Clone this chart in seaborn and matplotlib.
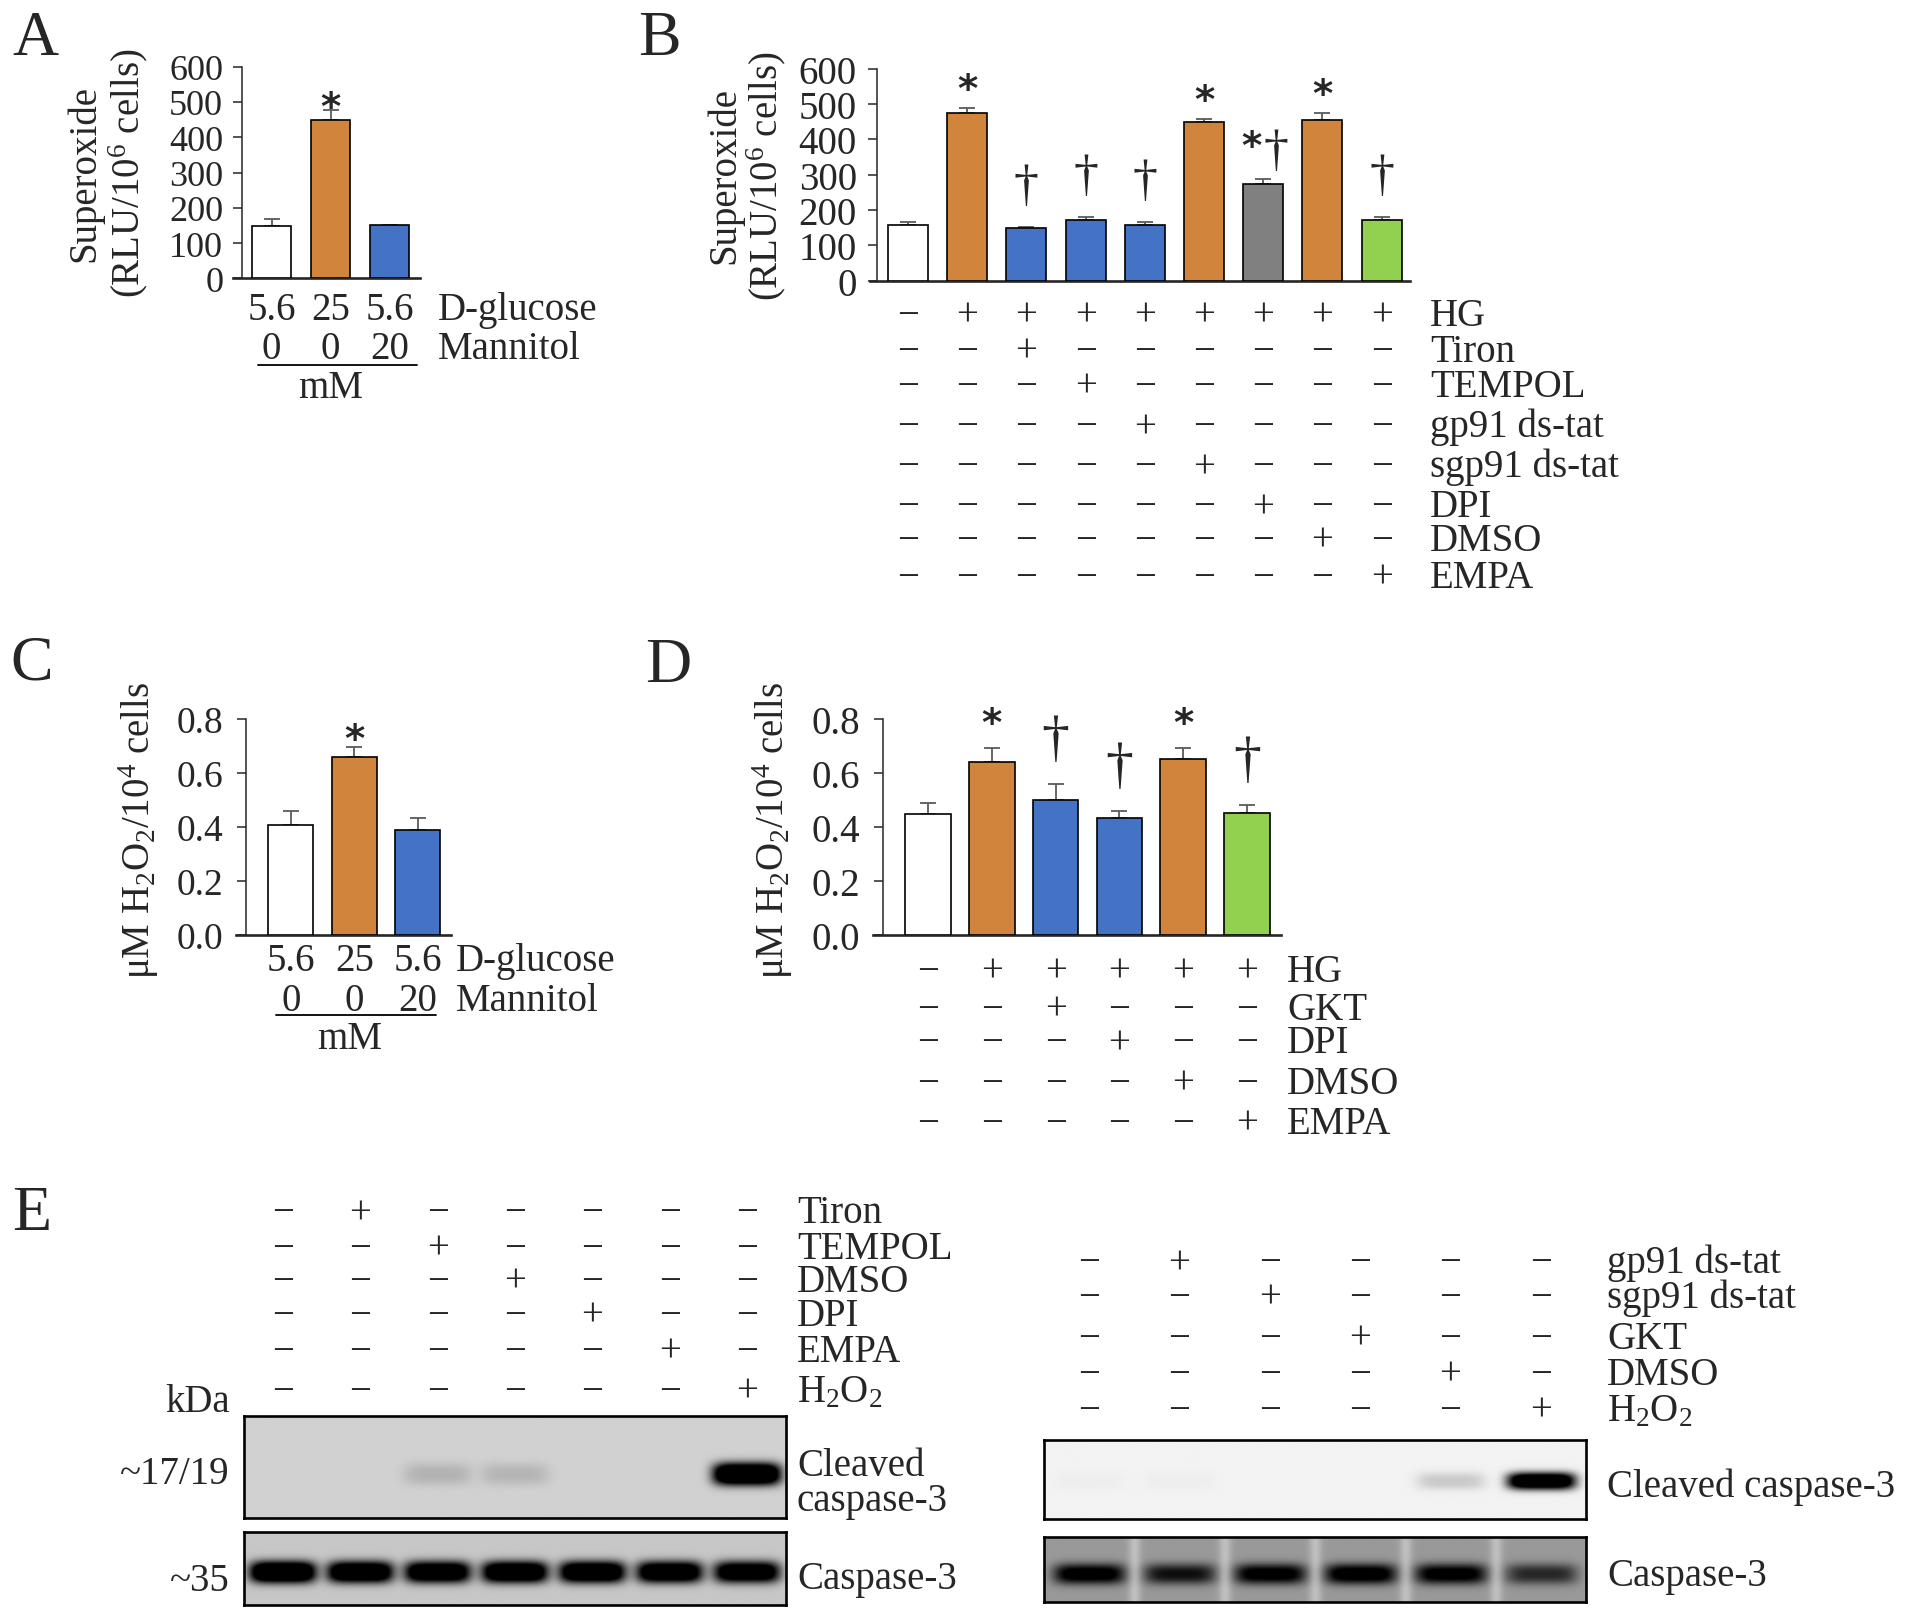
import numpy as np
import pandas as pd
import seaborn as sns
import matplotlib.pyplot as plt
from matplotlib.transforms import blended_transform_factory

# ---------------- data ----------------
WHITE, ORANGE, BLUE, GRAY, GREEN = "white", "#D0843C", "#4472C4", "#808080", "#92D050"

# A: superoxide (RLU/10^6 cells)
a_groups = ["5.6/0", "25/0", "5.6/20"]
a_glucose = ["5.6", "25", "5.6"]
a_mannitol = ["0", "0", "20"]
a_values = [147, 448, 150]
a_sem = [20, 30, 2]
a_marks = ["", "*", ""]
a_colors = [WHITE, ORANGE, BLUE]

# B: superoxide with inhibitors
b_groups = ["Ctrl", "HG", "HG+Tiron", "HG+TEMPOL", "HG+gp91", "HG+sgp91",
            "HG+DPI", "HG+DMSO", "HG+EMPA"]
b_values = [157, 475, 149, 173, 158, 449, 275, 456, 173]
b_sem = [10, 15, 4, 8, 9, 10, 13, 19, 8]
b_marks = ["", "*", "†", "†", "†", "*", "*†", "*", "†"]
b_colors = [WHITE, ORANGE, BLUE, BLUE, BLUE, ORANGE, GRAY, ORANGE, GREEN]
b_rows = ["HG", "Tiron", "TEMPOL", "gp91 ds-tat", "sgp91 ds-tat", "DPI", "DMSO", "EMPA"]
b_signs = ["-++++++++", "--+------", "---+-----", "----+----",
           "-----+---", "------+--", "-------+-", "--------+"]

# C: H2O2 (uM / 10^4 cells)
c_groups = ["5.6/0", "25/0", "5.6/20"]
c_glucose = ["5.6", "25", "5.6"]
c_mannitol = ["0", "0", "20"]
c_values = [0.407, 0.659, 0.388]
c_sem = [0.053, 0.039, 0.044]
c_marks = ["", "*", ""]
c_colors = [WHITE, ORANGE, BLUE]

# D: H2O2 with inhibitors
d_groups = ["Ctrl", "HG", "HG+GKT", "HG+DPI", "HG+DMSO", "HG+EMPA"]
d_values = [0.448, 0.640, 0.501, 0.433, 0.651, 0.453]
d_sem = [0.041, 0.054, 0.059, 0.027, 0.043, 0.030]
d_marks = ["", "*", "†", "†", "*", "†"]
d_colors = [WHITE, ORANGE, BLUE, BLUE, ORANGE, GREEN]
d_rows = ["HG", "GKT", "DPI", "DMSO", "EMPA"]
d_signs = ["-+++++", "--+---", "---+--", "----+-", "-----+"]

# E: western blots, band intensity per lane (0 = none, 1 = black)
e1_rows = ["Tiron", "TEMPOL", "DMSO", "DPI", "EMPA", r"H$_\mathregular{2}$O$_\mathregular{2}$"]
e1_signs = ["-+-----", "--+----", "---+---", "----+--", "-----+-", "------+"]
e1_cleaved = [0.0, 0.0, 0.12, 0.11, 0.0, 0.0, 1.4]
e1_total = [1.3, 1.2, 1.15, 1.2, 1.2, 1.15, 1.1]

e2_rows = ["gp91 ds-tat", "sgp91 ds-tat", "GKT", "DMSO", r"H$_\mathregular{2}$O$_\mathregular{2}$"]
e2_signs = ["-+----", "--+---", "---+--", "----+-", "-----+"]
e2_cleaved = [0.02, 0.02, 0.0, 0.0, 0.16, 1.4]
e2_total = [0.7, 0.55, 0.68, 0.72, 0.68, 0.45]

# ---------------- layout ----------------
sns.set_style("ticks")
plt.rcParams["font.family"] = ["Liberation Serif", "DejaVu Serif"]
plt.rcParams["mathtext.fontset"] = "custom"
plt.rcParams["mathtext.rm"] = "Liberation Serif"
plt.rcParams["mathtext.it"] = "Liberation Serif:italic"
plt.rcParams["mathtext.bf"] = "Liberation Serif:bold"

W, H = 1909, 1615
fig = plt.figure(figsize=(W / 100, H / 100), dpi=100)
FS = 28
MINUS = "\u2212"


def fy(y):
    return 1 - y / H


def fx(x):
    return x / W


def px_axes(x0, y0, x1, y1):
    return fig.add_axes([x0 / W, 1 - y1 / H, (x1 - x0) / W, (y1 - y0) / H])


def bar_panel(box, x_axis, c0, sp, groups, values, sem, colors, ymax, yticks,
              fmt, width, tick_fs, tick_pad):
    x_start, y_top, x_end, y_zero = box
    ax = px_axes(x_start, y_top, x_end, y_zero)
    df = pd.DataFrame({"group": groups, "value": values})
    sns.barplot(data=df, x="group", y="value", hue="group",
                palette=dict(zip(groups, colors)), width=width, saturation=1,
                edgecolor="black", linewidth=1.2, legend=False, ax=ax, zorder=3)
    n = len(values)
    ax.errorbar(range(n), values, yerr=[np.zeros(n), sem], fmt="none",
                ecolor="#5a5a5a", elinewidth=1.3, capsize=5.5, capthick=1.3, zorder=2)
    ax.spines[["top", "right"]].set_visible(False)
    ax.spines["left"].set_position(("data", -(c0 - x_axis) / sp))
    ax.spines["left"].set_linewidth(1.1)
    ax.spines["bottom"].set_linewidth(1.9)
    ax.set_xlim(-(c0 - x_start) / sp, n - 1 + (x_end - (c0 + (n - 1) * sp)) / sp)
    ax.set_ylim(0, ymax)
    ax.set_yticks(yticks)
    ax.set_yticklabels([fmt.format(t) for t in yticks])
    ax.set_xticks([])
    ax.set_xlabel("")
    ax.set_ylabel("")
    ax.tick_params(axis="y", direction="out", length=6.5, width=1.1, pad=tick_pad,
                   labelsize=tick_fs)
    ax.patch.set_alpha(0)
    return ax


def marks(ax, values, sem, labels, star_dy, dag_dy, star_fs, dag_fs):
    for i, (v, e, m) in enumerate(zip(values, sem, labels)):
        both = len(m) == 2
        for ch in m:
            if ch == "*":
                ax.annotate("*", (i, v + e), xytext=(-12 if both else 0, star_dy + (14 if both else 0)),
                            textcoords="offset pixels", ha="center", va="center",
                            fontsize=star_fs, fontweight="bold", family="DejaVu Sans",
                            annotation_clip=False)
            else:
                ax.annotate("†", (i, v + e), xytext=(13 if both else 0, 27 if both else dag_dy),
                            textcoords="offset pixels", ha="center", va="center",
                            fontsize=dag_fs, annotation_clip=False)


def sign_table(ax, rows, signs, ys, label_x, fs=FS):
    tr = blended_transform_factory(ax.transData, fig.transFigure)
    for name, pat, y in zip(rows, signs, ys):
        for j, ch in enumerate(pat):
            ax.text(j, fy(y), "+" if ch == "+" else MINUS, transform=tr,
                    ha="center", va="center_baseline", fontsize=fs, clip_on=False)
        fig.text(fx(label_x), fy(y), name, ha="left", va="center_baseline", fontsize=fs)


def blot(ax, levels, bg, y0, hy, hx, gap_light=0.0):
    n = len(levels)
    x = np.linspace(-0.5, n - 0.5, 800)
    y = np.linspace(0, 1, 150)
    X, Y = np.meshgrid(x, y)
    img = np.full_like(X, bg)
    for k, lvl in enumerate(levels):
        img += lvl * np.exp(-np.abs((X - k) / hx) ** 5) * np.exp(-np.abs((Y - y0) / hy) ** 2.5)
    for k in range(n - 1):
        img -= gap_light * np.exp(-((X - k - 0.5) / 0.07) ** 2)
    ax.imshow(np.clip(img, 0, 1), cmap="gray_r", vmin=0, vmax=1, aspect="auto",
              extent=(-0.5, n - 0.5, 1, 0), interpolation="bilinear")
    ax.set_xticks([])
    ax.set_yticks([])
    for s in ax.spines.values():
        s.set_linewidth(1.9)
        s.set_color("black")


# ---------------- panel A ----------------
axA = bar_panel((232.5, 67.7, 420, 279.3), 242, 271.5, 59, a_groups, a_values, a_sem,
                a_colors, 600, range(0, 601, 100), "{:d}", 0.67, 26, 7)
marks(axA, a_values, a_sem, a_marks, 2, 30, 28, 34)
trA = blended_transform_factory(axA.transData, fig.transFigure)
for j, (g, m) in enumerate(zip(a_glucose, a_mannitol)):
    axA.text(j, fy(306), g, transform=trA, ha="center", va="center_baseline", fontsize=FS)
    axA.text(j, fy(345), m, transform=trA, ha="center", va="center_baseline", fontsize=FS)
axA.plot([-0.23, 2.47], [fy(366)] * 2, transform=trA, color="black", lw=1.3, clip_on=False)
axA.text(1.0, fy(384), "mM", transform=trA, ha="center", va="center_baseline", fontsize=FS)
fig.text(fx(438), fy(306), "D-glucose", ha="left", va="center_baseline", fontsize=FS)
fig.text(fx(438), fy(345), "Mannitol", ha="left", va="center_baseline", fontsize=FS)
fig.text(fx(85), fy(173.5), "Superoxide", rotation=90, ha="center", va="center", fontsize=FS)
fig.text(fx(128), fy(173.5), r"(RLU/10$^\mathregular{6}$ cells)", rotation=90,
         ha="center", va="center", fontsize=FS)
fig.text(fx(12), fy(55), "A", fontsize=46, ha="left", va="baseline")

# ---------------- panel B ----------------
axB = bar_panel((870, 69.7, 1410, 281.7), 877, 908, 59.2, b_groups, b_values, b_sem,
                b_colors, 600, range(0, 601, 100), "{:d}", 0.676, 28, 8)
marks(axB, b_values, b_sem, b_marks, 18, 40, 28, 36)
sign_table(axB, b_rows, b_signs, [312, 348, 383, 423, 463, 503, 537, 574], 1430)
fig.text(fx(725), fy(176), "Superoxide", rotation=90, ha="center", va="center", fontsize=FS)
fig.text(fx(766), fy(176), r"(RLU/10$^\mathregular{6}$ cells)", rotation=90,
         ha="center", va="center", fontsize=FS)
fig.text(fx(638), fy(55), "B", fontsize=46, ha="left", va="baseline")

# ---------------- panel C ----------------
axC = bar_panel((236, 720, 451, 936), 246, 290.75, 63.5, c_groups, c_values, c_sem,
                c_colors, 0.8, [0, 0.2, 0.4, 0.6, 0.8], "{:.1f}", 0.71, 27, 10)
marks(axC, c_values, c_sem, c_marks, 7, 30, 28, 34)
trC = blended_transform_factory(axC.transData, fig.transFigure)
for j, (g, m) in enumerate(zip(c_glucose, c_mannitol)):
    axC.text(j, fy(957), g, transform=trC, ha="center", va="center_baseline", fontsize=FS)
    axC.text(j, fy(997), m, transform=trC, ha="center", va="center_baseline", fontsize=FS)
axC.plot([-0.24, 2.29], [fy(1016)] * 2, transform=trC, color="black", lw=1.3, clip_on=False)
axC.text(0.92, fy(1035), "mM", transform=trC, ha="center", va="center_baseline", fontsize=FS)
fig.text(fx(456), fy(957), "D-glucose", ha="left", va="center_baseline", fontsize=FS)
fig.text(fx(456), fy(997), "Mannitol", ha="left", va="center_baseline", fontsize=FS)
fig.text(fx(139), fy(830), r"μM H$_\mathregular{2}$O$_\mathregular{2}$/10$^\mathregular{4}$ cells",
         rotation=90, ha="center", va="center", fontsize=FS)
fig.text(fx(10), fy(680), "C", fontsize=46, ha="left", va="baseline")

# ---------------- panel D ----------------
axD = bar_panel((873, 720, 1281, 936), 883, 928, 63.8, d_groups, d_values, d_sem,
                d_colors, 0.8, [0, 0.2, 0.4, 0.6, 0.8], "{:.1f}", 0.715, 28, 10)
marks(axD, d_values, d_sem, d_marks, 24, 44, 28, 40)
sign_table(axD, d_rows, d_signs, [968, 1006, 1039, 1080, 1120], 1287)
fig.text(fx(773), fy(830), r"μM H$_\mathregular{2}$O$_\mathregular{2}$/10$^\mathregular{4}$ cells",
         rotation=90, ha="center", va="center", fontsize=FS)
fig.text(fx(645), fy(682), "D", fontsize=46, ha="left", va="baseline")

# ---------------- panel E (left) ----------------
axE1 = px_axes(244, 1417, 786, 1519)
blot(axE1, e1_cleaved, 0.18, 0.57, 0.11, 0.44)
axE2 = px_axes(244, 1533, 786, 1606)
blot(axE2, e1_total, 0.22, 0.55, 0.15, 0.43)
sign_table(axE1, e1_rows, e1_signs, [1209, 1245, 1278, 1312, 1348, 1388], 797)
fig.text(fx(230), fy(1398), "kDa", ha="right", va="center_baseline", fontsize=FS)
fig.text(fx(230), fy(1470), "~17/19", ha="right", va="center_baseline", fontsize=FS)
fig.text(fx(230), fy(1577), "~35", ha="right", va="center_baseline", fontsize=FS)
fig.text(fx(797), fy(1462), "Cleaved", ha="left", va="center_baseline", fontsize=FS)
fig.text(fx(797), fy(1497), "caspase-3", ha="left", va="center_baseline", fontsize=FS)
fig.text(fx(797), fy(1575), "Caspase-3", ha="left", va="center_baseline", fontsize=FS)
fig.text(fx(12), fy(1230), "E", fontsize=46, ha="left", va="baseline")

# ---------------- panel E (right) ----------------
axE3 = px_axes(1044, 1441, 1586, 1520)
blot(axE3, e2_cleaved, 0.05, 0.52, 0.11, 0.38)
axE4 = px_axes(1044, 1538, 1586, 1603)
blot(axE4, e2_total, 0.4, 0.57, 0.16, 0.4, gap_light=0.15)
sign_table(axE3, e2_rows, e2_signs, [1259, 1294, 1335, 1371, 1407], 1607)
fig.text(fx(1607), fy(1483), "Cleaved caspase-3", ha="left", va="center_baseline", fontsize=FS)
fig.text(fx(1607), fy(1572), "Caspase-3", ha="left", va="center_baseline", fontsize=FS)

fig.savefig("out.png", dpi=100)
